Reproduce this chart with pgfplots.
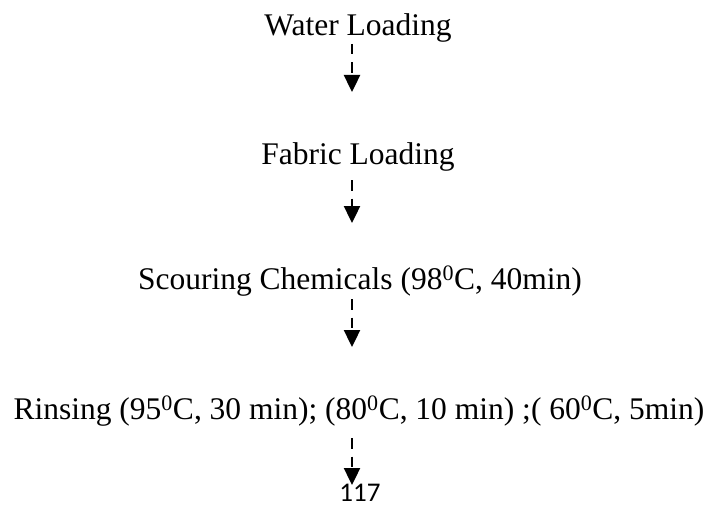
\documentclass[border=0pt]{standalone}
\usepackage{fontspec}
\setmainfont{Liberation Serif}
\newfontfamily\calibri{Carlito}
\usepackage{pgfplots}
\pgfplotsset{compat=1.18}
\usetikzlibrary{arrows.meta}

% arrows of the flow (x, start y, length), pixel-like units, y downwards
\pgfplotstableread{
x   y   v
352 44  48
352 180 43
352 299 48
352 438 47
}\arrowtab

\begin{document}
\begin{tikzpicture}
\begin{axis}[
    scale only axis,
    width=712bp, height=506bp,
    xmin=0, xmax=712, ymin=0, ymax=506,
    y dir=reverse,
    hide axis,
    clip=false,
]
\addplot[black, quiver={u=0, v=\thisrow{v}},
    -{Triangle[length=17bp,width=16bp]},
    dash pattern=on 10.5bp off 8bp, line width=2.4bp]
    table[x=x, y=y] {\arrowtab};

\begin{scope}[every node/.style={anchor=base, inner sep=0pt,
    font=\fontsize{31.5bp}{36bp}\selectfont}]
\node at (axis cs:358,36) {Water Loading};
\node at (axis cs:358,164) {Fabric Loading};
\node at (axis cs:360,289) {Scouring Chemicals (98\textsuperscript{0}C, 40min)};
\node at (axis cs:359,419) {Rinsing (95\textsuperscript{0}C, 30 min); (80\textsuperscript{0}C, 10 min) ;( 60\textsuperscript{0}C, 5min)};
\end{scope}
\node[anchor=base, inner sep=0pt, font=\calibri\fontsize{27bp}{32bp}\selectfont]
    at (axis cs:360,501) {117};
\end{axis}
\pgfresetboundingbox
\path (0,0) rectangle (712bp,506bp);
\end{tikzpicture}
\end{document}
